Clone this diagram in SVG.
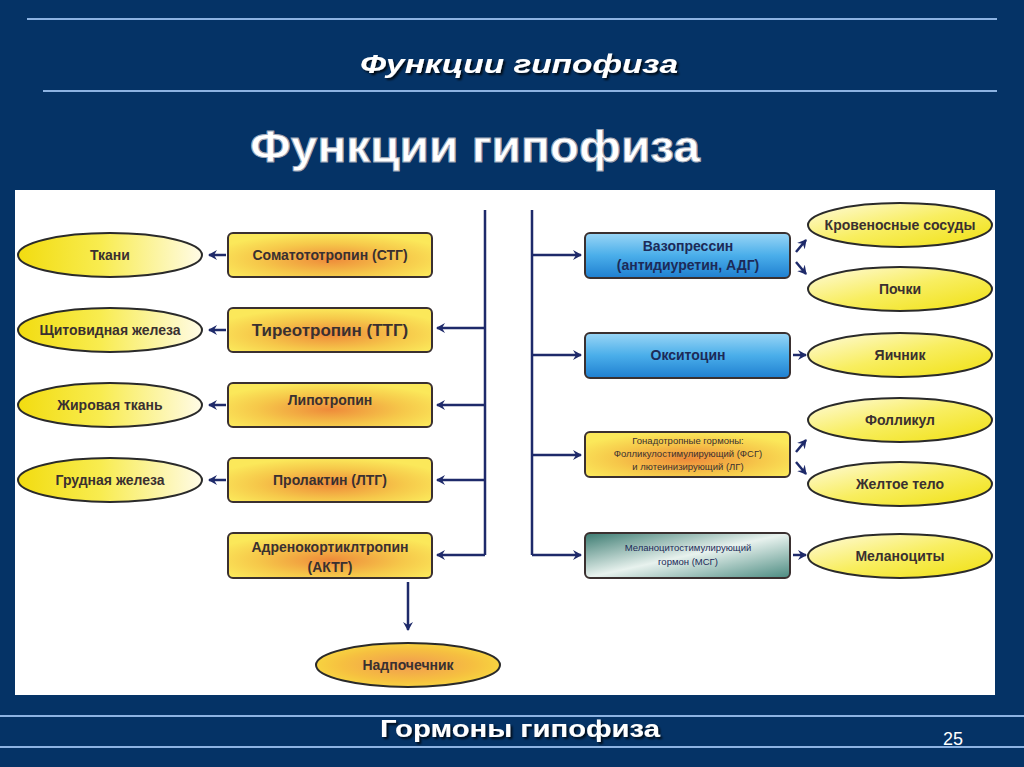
<svg xmlns="http://www.w3.org/2000/svg" width="1024" height="767" viewBox="0 0 1024 767">
<defs>
<style>
.ln{stroke:#8db3e2;stroke-width:2}
.t{font-family:"Liberation Sans",Arial,sans-serif;font-weight:bold;text-anchor:middle}
.lbl{fill:#3a3030;font-size:14px}
.blbl{fill:#1c2a58;font-size:14px}
.sm{font-size:9.5px;font-weight:normal}
.box{stroke:#3a3030;stroke-width:2}
.ell{stroke:#2a2a2a;stroke-width:2}
.c{stroke:#1e2a6a;stroke-width:2.5;fill:none}
</style>
<radialGradient id="gOr" cx="0.5" cy="0.6" r="0.6">
<stop offset="0" stop-color="#ee8a3a"/>
<stop offset="0.6" stop-color="#f6c84a"/>
<stop offset="1" stop-color="#fbe85a"/>
</radialGradient>
<linearGradient id="gBl" x1="0" y1="0" x2="0" y2="1">
<stop offset="0" stop-color="#9ad6f6"/>
<stop offset="0.5" stop-color="#4aaeea"/>
<stop offset="1" stop-color="#1f7fd0"/>
</linearGradient>
<linearGradient id="gTe" x1="0" y1="0" x2="1" y2="1">
<stop offset="0" stop-color="#3a7a70"/>
<stop offset="0.5" stop-color="#e8f2ee"/>
<stop offset="1" stop-color="#4a8a80"/>
</linearGradient>
<linearGradient id="gEl" x1="0" y1="0" x2="1" y2="0">
<stop offset="0" stop-color="#f2dc10"/>
<stop offset="0.45" stop-color="#f8ec50"/>
<stop offset="1" stop-color="#fffbe6"/>
</linearGradient>
<linearGradient id="gEr" x1="0" y1="0" x2="1" y2="1">
<stop offset="0" stop-color="#fffbe0"/>
<stop offset="0.5" stop-color="#f8ee60"/>
<stop offset="1" stop-color="#f0e010"/>
</linearGradient>
<radialGradient id="gEo" cx="0.5" cy="0.5" r="0.6">
<stop offset="0" stop-color="#f09a50"/>
<stop offset="0.6" stop-color="#f6c040"/>
<stop offset="1" stop-color="#f8e040"/>
</radialGradient>
<filter id="sh" x="-10%" y="-10%" width="130%" height="150%">
<feDropShadow dx="2" dy="2" stdDeviation="1" flood-color="#000" flood-opacity="0.8"/>
</filter>
<marker id="ah" markerWidth="10" markerHeight="10" refX="8" refY="5" orient="auto" markerUnits="userSpaceOnUse">
<path d="M0,0 L9,5 L0,10 L3,5 Z" fill="#1e2a6a"/>
</marker>
</defs>
<rect width="1024" height="767" fill="#053366"/>
<line class="ln" x1="27" y1="19" x2="997" y2="19"/>
<line class="ln" x1="43" y1="91" x2="997" y2="91"/>
<text class="t" x="519" y="73" fill="#fff" style="font-size:25px;font-style:italic" textLength="318" lengthAdjust="spacingAndGlyphs" filter="url(#sh)">Функции  гипофиза</text>
<text class="t" x="475" y="162" fill="#fff" stroke="#a0a8b8" stroke-width="1" style="font-size:44px" textLength="450" lengthAdjust="spacingAndGlyphs">Функции  гипофиза</text>
<rect x="15" y="190" width="980" height="505" fill="#fff"/>
<line class="ln" x1="0" y1="716" x2="1024" y2="716"/>
<line class="ln" x1="0" y1="747" x2="1024" y2="747"/>
<text class="t" x="520" y="737" fill="#fff" style="font-size:23px" textLength="280" lengthAdjust="spacingAndGlyphs" filter="url(#sh)">Гормоны гипофиза</text>
<text x="953" y="745" fill="#fff" font-size="18" font-family="'Liberation Sans',Arial,sans-serif" text-anchor="middle">25</text>

<g id="connectors">
<path class="c" d="M485,210 V555"/>
<path class="c" d="M485,328 H437" marker-end="url(#ah)"/>
<path class="c" d="M485,405 H437" marker-end="url(#ah)"/>
<path class="c" d="M485,480 H437" marker-end="url(#ah)"/>
<path class="c" d="M485,555 H437" marker-end="url(#ah)"/>
<path class="c" d="M226,255 H209" marker-end="url(#ah)"/>
<path class="c" d="M226,330 H209" marker-end="url(#ah)"/>
<path class="c" d="M226,405 H209" marker-end="url(#ah)"/>
<path class="c" d="M226,480 H209" marker-end="url(#ah)"/>
<path class="c" d="M408,582 V630" marker-end="url(#ah)"/>
<path class="c" d="M532,210 V555"/>
<path class="c" d="M532,255 H581" marker-end="url(#ah)"/>
<path class="c" d="M532,355 H581" marker-end="url(#ah)"/>
<path class="c" d="M532,455 H581" marker-end="url(#ah)"/>
<path class="c" d="M532,555 H581" marker-end="url(#ah)"/>
<path class="c" d="M796,252 L806,240" marker-end="url(#ah)"/>
<path class="c" d="M796,262 L806,274" marker-end="url(#ah)"/>
<path class="c" d="M793,355 H806" marker-end="url(#ah)"/>
<path class="c" d="M796,452 L806,440" marker-end="url(#ah)"/>
<path class="c" d="M796,462 L806,474" marker-end="url(#ah)"/>
<path class="c" d="M793,555 H806" marker-end="url(#ah)"/>
</g>

<g id="stg"><rect class="box" x="228" y="233" width="204" height="44" rx="5" fill="url(#gOr)"/><text class="t lbl" x="330" y="260">Соматототропин (СТГ)</text></g>
<g id="ttg"><rect class="box" x="228" y="308" width="204" height="44" rx="5" fill="url(#gOr)"/><text class="t lbl" x="330" y="336" style="font-size:17px">Тиреотропин (ТТГ)</text></g>
<g id="lipo"><rect class="box" x="228" y="383" width="204" height="44" rx="5" fill="url(#gOr)"/><text class="t lbl" x="330" y="405">Липотропин</text></g>
<g id="prl"><rect class="box" x="228" y="458" width="204" height="44" rx="5" fill="url(#gOr)"/><text class="t lbl" x="330" y="485">Пролактин (ЛТГ)</text></g>
<g id="actg"><rect class="box" x="228" y="533" width="204" height="45" rx="5" fill="url(#gOr)"/><text class="t lbl" x="330" y="552">Адренокортиклтропин</text><text class="t lbl" x="330" y="572">(АКТГ)</text></g>

<g id="tkani"><ellipse class="ell" cx="110" cy="255" rx="92" ry="22" fill="url(#gEl)"/><text class="t lbl" x="110" y="260">Ткани</text></g>
<g id="shchit"><ellipse class="ell" cx="110" cy="330" rx="92" ry="22" fill="url(#gEl)"/><text class="t lbl" x="110" y="335">Щитовидная железа</text></g>
<g id="zhir"><ellipse class="ell" cx="110" cy="405" rx="92" ry="22" fill="url(#gEl)"/><text class="t lbl" x="110" y="410">Жировая ткань</text></g>
<g id="grud"><ellipse class="ell" cx="110" cy="480" rx="92" ry="22" fill="url(#gEl)"/><text class="t lbl" x="110" y="485">Грудная железа</text></g>
<g id="nadp"><ellipse class="ell" cx="408" cy="665" rx="92" ry="22" fill="url(#gEo)"/><text class="t lbl" x="408" y="670">Надпочечник</text></g>

<g id="vazo"><rect class="box" x="585" y="233" width="205" height="45" rx="5" fill="url(#gBl)"/><text class="t blbl" x="688" y="251">Вазопрессин</text><text class="t blbl" x="688" y="270">(антидиуретин, АДГ)</text></g>
<g id="oksi"><rect class="box" x="585" y="333" width="205" height="45" rx="5" fill="url(#gBl)"/><text class="t blbl" x="688" y="360">Окситоцин</text></g>
<g id="gonad"><rect class="box" x="585" y="432" width="205" height="45" rx="5" fill="url(#gOr)"/><text class="t lbl sm" x="688" y="444">Гонадотропные гормоны:</text><text class="t lbl sm" x="688" y="457">Фолликулостимулирующий (ФСГ)</text><text class="t lbl sm" x="688" y="470">и лютеинизирующий (ЛГ)</text></g>
<g id="melan"><rect class="box" x="585" y="533" width="205" height="45" rx="5" fill="url(#gTe)"/><text class="t blbl sm" x="688" y="551">Меланоцитостимулирующий</text><text class="t blbl sm" x="688" y="565">гормон (МСГ)</text></g>

<g id="krov"><ellipse class="ell" cx="900" cy="225" rx="92" ry="22" fill="url(#gEr)"/><text class="t lbl" x="900" y="230">Кровеносные сосуды</text></g>
<g id="pochki"><ellipse class="ell" cx="900" cy="289" rx="92" ry="22" fill="url(#gEr)"/><text class="t lbl" x="900" y="294">Почки</text></g>
<g id="yaich"><ellipse class="ell" cx="900" cy="355" rx="92" ry="22" fill="url(#gEr)"/><text class="t lbl" x="900" y="360">Яичник</text></g>
<g id="foll"><ellipse class="ell" cx="900" cy="420" rx="92" ry="22" fill="url(#gEr)"/><text class="t lbl" x="900" y="425">Фолликул</text></g>
<g id="zhelt"><ellipse class="ell" cx="900" cy="484" rx="92" ry="22" fill="url(#gEr)"/><text class="t lbl" x="900" y="489">Желтое тело</text></g>
<g id="melc"><ellipse class="ell" cx="900" cy="556" rx="92" ry="22" fill="url(#gEr)"/><text class="t lbl" x="900" y="561">Меланоциты</text></g>
</svg>
